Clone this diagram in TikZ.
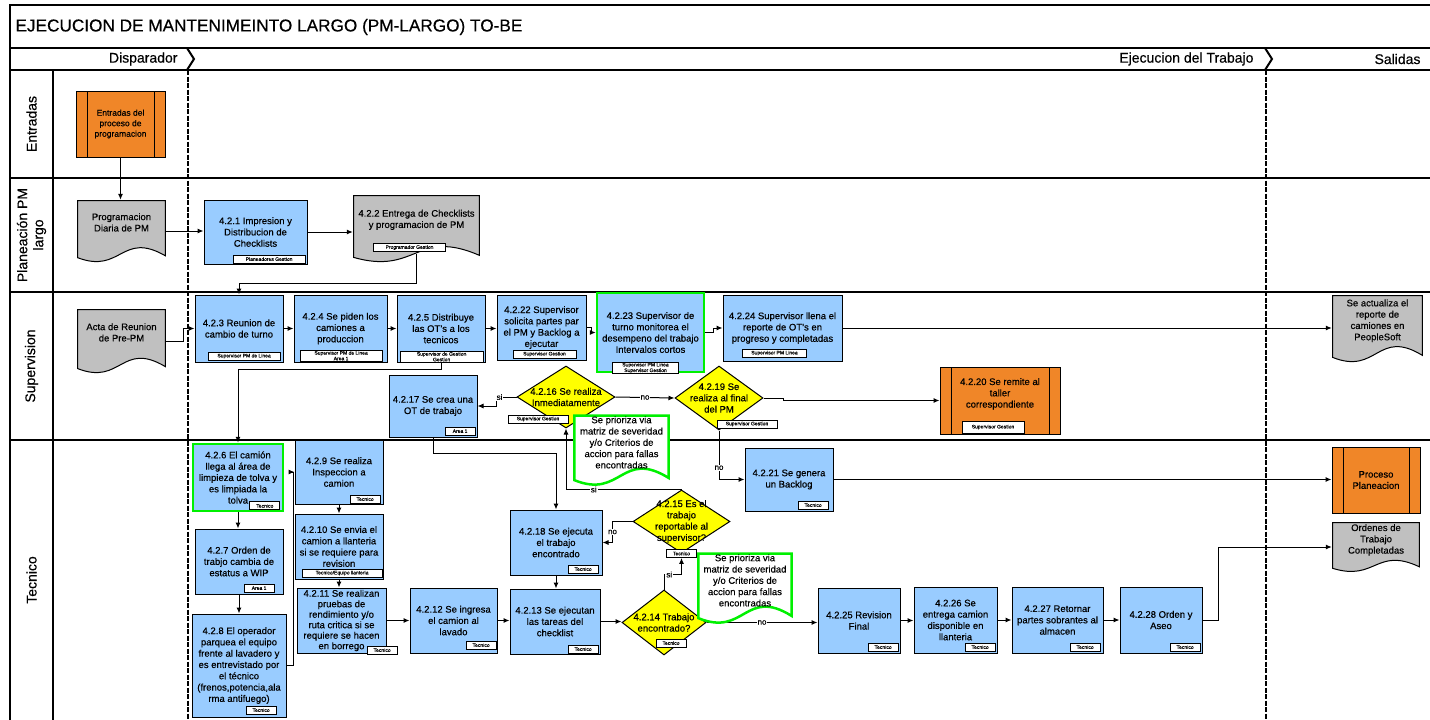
\documentclass[tikz,border=0pt]{standalone}
\usepackage{fontspec}
\setmainfont{Liberation Sans}[UprightFeatures={FakeBold=0.4}]
\usetikzlibrary{arrows.meta, shapes.geometric, calc, positioning}

\definecolor{procblue}{RGB}{153,204,255}
\definecolor{procorange}{RGB}{240,134,40}
\definecolor{docgray}{RGB}{192,192,192}
\definecolor{decyellow}{RGB}{255,255,0}
\definecolor{notegreen}{RGB}{0,240,0}

\newcommand{\bxfont}{\fontsize{9.5}{11.3}\selectfont}
\newcommand{\tagfont}{\fontsize{5}{5.6}\selectfont}
\newcommand{\lanefont}{\fontsize{14}{16}\selectfont}

\tikzset{
  procbox/.style={draw=black, fill=procblue, line width=1pt, align=center, font=\bxfont, inner sep=2pt},
  greenbox/.style={procbox, draw=notegreen, line width=2.5pt},
  predproc/.style={draw=black, fill=procorange, line width=1pt, align=center, font=\bxfont, inner sep=2pt,
    path picture={
      \draw[line width=1pt] ([xshift=11pt]path picture bounding box.north west) -- ([xshift=11pt]path picture bounding box.south west);
      \draw[line width=1pt] ([xshift=-11pt]path picture bounding box.north east) -- ([xshift=-11pt]path picture bounding box.south east);
    }},
  wavedoc/.style n args={4}{align=center, font=\bxfont, inner sep=2pt,
    path picture={
      \path[fill=#1, draw=#2, line width=#3]
        let \p1=(path picture bounding box.south west),
            \p2=(path picture bounding box.north east),
            \n1={\y2-\y1}, \n2={0.5*(\x1+\x2)} in
        (\x1+#4,\y2-#4) -- (\x2-#4,\y2-#4) -- (\x2-#4,{\y1+#4+0.09*\n1})
        .. controls ({\n2*1pt},{\y1+#4+0.5*\n1}) and ({\n2*1pt},{\y1+#4-0.21*\n1}) ..
        (\x1+#4,{\y1+#4+0.06*\n1}) -- cycle;
    }},
  docbox/.style={wavedoc={docgray}{black}{1pt}{0.6pt}},
  notebox/.style={wavedoc={white}{notegreen}{2.5pt}{1.3pt}},
  decision/.style={diamond, draw=black, fill=decyellow, line width=1pt, inner sep=0pt, aspect=1.5},
  dectext/.style={font=\bxfont, align=center, inner sep=0pt},
  tagbox/.style={draw=black, fill=white, line width=0.8pt, font=\tagfont, align=center, inner sep=0.8pt, minimum height=8pt, minimum width=30pt},
  flow/.style={draw=black, line width=1pt, ->},
  flowlbl/.style={fill=white, font=\fontsize{8}{9}\selectfont, inner sep=1pt},
  lanelbl/.style={rotate=90, align=center, font=\lanefont},
  phaselbl/.style={font=\lanefont, anchor=east},
  laneline/.style={line width=1.2pt}
}

\begin{document}
\begin{tikzpicture}[x=1pt, y=-1pt, >={Latex[length=6pt,width=5pt]}]
  \useasboundingbox (0,0) rectangle (1430,720);
  \fill[white] (0,0) rectangle (1430,720);

  % pool and lanes
  \draw[laneline] (1430,5) -- (10,5) -- (10,720);
  \draw[laneline] (10,48) -- (1430,48);
  \draw[laneline] (10,70) -- (1430,70);
  \foreach \y in {178,292,440}
    \draw[laneline] (10,\y) -- (1430,\y);
  \draw[laneline] (53,70) -- (53,720);

  \foreach \x in {188,1266} {
    \draw[line width=2.5pt, dash pattern=on 5pt off 1.5pt] (\x,70) -- (\x,720);
    \draw[line width=2pt] (\x-1,48) -- (\x+6,59) -- (\x-1,70);
  }

  \node[anchor=west, font=\fontsize{17.2}{19}\selectfont] (title) at (12,27) {EJECUCION DE MANTENIMEINTO LARGO (PM-LARGO) TO-BE};
  \node[phaselbl] (ph1) at (181,59) {Disparador};
  \node[phaselbl] (ph2) at (1257,59) {Ejecucion del Trabajo};
  \node[phaselbl] (ph3) at (1424,59) {Salidas};

  \node[lanelbl] (ln1) at (31.5,124) {Entradas};
  \node[lanelbl] (ln2) at (31.5,235) {Planeación PM\\largo};
  \node[lanelbl] (ln3) at (31.5,366) {Supervision};
  \node[lanelbl] (ln4) at (31.5,580) {Tecnico};

  % Entradas / Planeacion
  \node[predproc, minimum width=89pt, minimum height=66pt, font=\fontsize{8.5}{10.5}\selectfont] (in1) at (120.5,124) {Entradas del\\proceso de\\programacion};
  \node[docbox, minimum width=89pt, minimum height=62pt] (doc1) at (121.5,231) {Programacion\\Diaria de PM\\[6pt]};
  \node[procbox, minimum width=103pt, minimum height=64pt] (p421) at (255.5,232) {4.2.1 Impresion y\\Distribucion de\\Checklists};
  \node[docbox, minimum width=127pt, minimum height=67pt] (doc422) at (416.5,228.5) {4.2.2 Entrega de Checklists\\y programacion de PM\\[8pt]};

  % Supervision
  \node[docbox, minimum width=89pt, minimum height=64pt] (acta) at (121.5,341) {Acta de Reunion\\de Pre-PM\\[6pt]};
  \node[procbox, minimum width=88pt, minimum height=67pt] (p423) at (239,328.5) {4.2.3 Reunion de\\cambio de turno};
  \node[procbox, minimum width=93pt, minimum height=67pt] (p424) at (340.5,328.5) {4.2.4 Se piden los\\camiones a\\produccion};
  \node[procbox, minimum width=88pt, minimum height=67pt] (p425) at (441,328.5) {4.2.5 Distribuye\\las OT's a los\\tecnicos};
  \node[procbox, minimum width=89pt, minimum height=65pt] (p4222) at (541.5,327.5) {4.2.22 Supervisor\\solicita partes par\\el PM y Backlog a\\ejecutar};
  \node[greenbox, minimum width=107pt, minimum height=79pt] (p4223) at (650.5,332.5) {4.2.23 Supervisor de\\turno monitorea el\\desempeno del trabajo\\Intervalos cortos};
  \node[procbox, minimum width=119pt, minimum height=66pt] (p4224) at (782.5,328) {4.2.24 Supervisor llena el\\reporte de OT's en\\progreso y completadas};
  \node[docbox, minimum width=91pt, minimum height=67pt] (docps) at (1377.5,328.5) {Se actualiza el\\reporte de\\camiones en\\PeopleSoft\\[6pt]};
  \node[procbox, minimum width=88pt, minimum height=62pt] (p4217) at (433,406) {4.2.17 Se crea una\\OT de trabajo};
  \node[decision, minimum width=98pt, minimum height=62pt, label={[dectext]center:{4.2.16 Se realiza\\Inmediatamente}}] (d4216) at (566,397) {};
  \node[decision, minimum width=88pt, minimum height=64pt, label={[dectext]center:{4.2.19 Se\\realiza al final\\del PM}}] (d4219) at (719,398) {};
  \node[predproc, minimum width=120pt, minimum height=67pt] (p4220) at (1000,400.5) {4.2.20 Se remite al\\taller\\correspondiente\\[4pt]};

  % Tecnico
  \node[greenbox, minimum width=90pt, minimum height=67pt] (p426) at (238,477.5) {4.2.6 El camión\\llega al área de\\limpieza de tolva y\\es limpiada la\\tolva};
  \node[procbox, minimum width=88pt, minimum height=65pt] (p427) at (239,561.5) {4.2.7 Orden de\\trabjo cambia de\\estatus a WIP};
  \node[procbox, minimum width=94pt, minimum height=103pt] (p428) at (239,665.5) {4.2.8 El operador\\parquea el equipo\\frente al lavadero y\\es entrevistado por\\el técnico\\(frenos,potencia,ala\\rma antifuego)};
  \node[procbox, minimum width=88pt, minimum height=64pt] (p429) at (339,472) {4.2.9 Se realiza\\Inspeccion a\\camion};
  \node[procbox, minimum width=88pt, minimum height=65pt] (p4210) at (339,546.5) {4.2.10 Se envia el\\camion a llanteria\\si se requiere para\\revision};
  \node[procbox, minimum width=89pt, minimum height=65pt, inner ysep=0pt, font=\fontsize{9.5}{10.5}\selectfont] (p4211) at (341.5,620.5) {4.2.11 Se realizan\\pruebas de\\rendimiento y/o\\ruta critica si se\\requiere se hacen\\en borrego};
  \node[procbox, minimum width=87pt, minimum height=65pt] (p4212) at (453.5,620.5) {4.2.12 Se ingresa\\el camion al\\lavado};
  \node[procbox, minimum width=90pt, minimum height=65pt] (p4213) at (555,621.5) {4.2.13 Se ejecutan\\las tareas del\\checklist};
  \node[procbox, minimum width=92pt, minimum height=65pt] (p4218) at (556,542.5) {4.2.18 Se ejecuta\\el trabajo\\encontrado};
  \node[decision, minimum width=84pt, minimum height=65pt, label={[dectext]center:{4.2.14 Trabajo\\encontrado?}}] (d4214) at (664,622.5) {};
  \node[decision, minimum width=97pt, minimum height=63pt, label={[dectext]center:{4.2.15 Es el\\trabajo\\reportable al\\supervisor?}}] (d4215) at (681.5,521.5) {};
  \node[procbox, minimum width=88pt, minimum height=63pt] (p4221) at (789,479.5) {4.2.21 Se genera\\un Backlog};
  \node[procbox, minimum width=82pt, minimum height=65pt] (p4225) at (859,620.5) {4.2.25 Revision\\Final};
  \node[procbox, minimum width=83pt, minimum height=66pt] (p4226) at (955.5,620) {4.2.26 Se\\entrega camion\\disponible en\\llanteria};
  \node[procbox, minimum width=91pt, minimum height=66pt] (p4227) at (1057.5,620) {4.2.27 Retornar\\partes sobrantes al\\almacen};
  \node[procbox, minimum width=82pt, minimum height=66pt] (p4228) at (1161,620) {4.2.28 Orden y\\Aseo};
  \node[predproc, minimum width=88pt, minimum height=66pt] (pplan) at (1376,480) {Proceso\\Planeacion};
  \node[docbox, minimum width=88pt, minimum height=46pt] (docord) at (1376,547) {Ordenes de\\Trabajo\\Completadas\\[5pt]};

  % role tags
  \node[tagbox, minimum width=72pt, anchor=south east] (p421t) at ([xshift=-2pt,yshift=1pt]p421.south east) {Planeadores Gestion};
  \node[tagbox, minimum width=72pt] (doc422t) at ([xshift=-7pt,yshift=-19pt]doc422.center) {Programador Gestion};
  \node[tagbox, minimum width=72pt, anchor=south east] (p423t) at ([xshift=-3pt,yshift=2pt]p423.south east) {Supervisor PM de Linea};
  \node[tagbox, minimum width=82pt, anchor=south east] (p424t) at ([xshift=-5pt,yshift=1pt]p424.south east) {Supervisor PM de Linea\\Area 1};
  \node[tagbox, minimum width=83pt, anchor=south east] (p425t) at ([xshift=-2pt,yshift=0pt]p425.south east) {Supervisor de Gestion\\Gestion};
  \node[tagbox, minimum width=63pt, anchor=south] (p4222t) at ([xshift=3pt,yshift=2pt]p4222.south) {Supervisor Gestion};
  \node[tagbox, minimum width=66pt, anchor=south] (p4223t) at ([xshift=-5pt,yshift=-1pt]p4223.south) {Supervisor PM Linea\\Supervisor Gestion};
  \node[tagbox, minimum width=64pt, anchor=south] (p4224t) at ([xshift=-8pt,yshift=4pt]p4224.south) {Supervisor PM Linea};
  \node[tagbox, anchor=south east] (p4217t) at ([xshift=-2pt,yshift=2pt]p4217.south east) {Area 1};
  \node[tagbox, minimum width=60pt] (d4216t) at ([xshift=-28pt,yshift=-22pt]d4216.center) {Supervisor Gestion};
  \node[tagbox, minimum width=60pt] (d4219t) at ([xshift=28pt,yshift=-26pt]d4219.center) {Supervisor Gestion};
  \node[tagbox, minimum width=62pt, minimum height=12pt, anchor=south] (p4220t) at ([xshift=-7pt,yshift=1pt]p4220.south) {Supervisor Gestion};
  \node[tagbox, anchor=south east] (p426t) at ([xshift=-4pt,yshift=2pt]p426.south east) {Tecnico};
  \node[tagbox, anchor=south east] (p427t) at ([xshift=-9pt,yshift=2pt]p427.south east) {Area 1};
  \node[tagbox, anchor=south east] (p428t) at ([xshift=-10pt,yshift=3pt]p428.south east) {Tecnico};
  \node[tagbox, anchor=south east] (p429t) at ([xshift=-3pt,yshift=1pt]p429.south east) {Tecnico};
  \node[tagbox, minimum width=80pt, anchor=south east] (p4210t) at ([xshift=-1pt,yshift=2pt]p4210.south east) {Tecnico/Equipo llanteria};
  \node[tagbox, anchor=south east] (p4211t) at ([xshift=11pt,yshift=-1pt]p4211.south east) {Tecnico};
  \node[tagbox, anchor=south east] (p4212t) at ([xshift=-1pt,yshift=4pt]p4212.south east) {Tecnico};
  \node[tagbox, anchor=south east] (p4213t) at ([xshift=-2pt,yshift=1pt]p4213.south east) {Tecnico};
  \node[tagbox, anchor=south east] (p4218t) at ([xshift=-4pt,yshift=2pt]p4218.south east) {Tecnico};
  \node[tagbox] (d4214t) at ([xshift=7pt,yshift=-20.5pt]d4214.center) {Tecnico};
  \node[tagbox] (d4215t) at ([yshift=-32pt]d4215.center) {Tecnico};
  \node[tagbox, anchor=south east] (p4221t) at ([xshift=-5pt,yshift=2pt]p4221.south east) {Tecnico};
  \node[tagbox, anchor=south east] (p4225t) at ([xshift=-2pt,yshift=2pt]p4225.south east) {Tecnico};
  \node[tagbox, anchor=south east] (p4226t) at ([xshift=-2pt,yshift=2pt]p4226.south east) {Tecnico};
  \node[tagbox, anchor=south east] (p4227t) at ([xshift=-3pt,yshift=2pt]p4227.south east) {Tecnico};
  \node[tagbox, anchor=south east] (p4228t) at ([xshift=-2pt,yshift=2pt]p4228.south east) {Tecnico};

  % connectors
  \draw[flow] (in1.south) -- (in1.south |- doc1.north);
  \draw[flow] (doc1.east) -- (doc1.east -| p421.west);
  \draw[flow] (p421.east) -- (p421.east -| doc422.west);
  \draw[flow] ([yshift=8pt]doc422.south) -- ++(0,29) -| (p423.north);
  \draw[flow] (acta.east) -- ++(17,0) |- (p423.west);
  \draw[flow] (p423.east) -- (p424.west);
  \draw[flow] (p424.east) -- (p425.west);
  \draw[flow] (p425.east) -- (p425.east -| p4222.west);
  \draw[flow] (p4222.east) -- ++(5,0) |- (p4223.west);
  \draw[flow] (p4223.east) -- ++(8,0) |- (p4224.west);
  \draw[flow] (p4224.east) -- (p4224.east -| docps.west);
  \draw[flow] (p425.south) -- ++(0,7) -| (p426.north);
  \draw[flow] (d4216.west) -- ++(-20,0) node[flowlbl, pos=0.85] (l1) {si} |- (p4217.east);
  \draw[flow] (d4216.east) -- node[flowlbl, midway] (l2) {no} (d4219.west);
  \draw[flow] (d4219.east) -- ++(20,0) |- (p4220.west);
  \draw[flow] (d4219.south) |- node[flowlbl, pos=0.38] (l3) {no} (p4221.west);
  \draw[flow] (p4221.east) -- (p4221.east -| pplan.west);
  \draw[flow] (d4215.north) -| node[flowlbl, pos=0.38] (l4) {si} (d4216.south);
  \draw[flow] (p4217.south) -- ++(0,16) -| (p4218.north);
  \draw[flow] (d4215.west) -- ++(-20,0) |- node[flowlbl, pos=0.25] (l5) {no} (p4218.east);
  \draw[flow] (d4214.north) -- ++(0,-15) -| node[flowlbl, pos=0.15] (l6) {si} (d4215t.south);
  \draw[flow] (p426.south) -- (p426.south |- p427.north);
  \draw[flow] (p427.south) -- (p427.south |- p428.north);
  \draw[flow] (p428.east) -- ++(7,0) |- (p429.west);
  \draw[flow] (p429.south) -- (p429.south |- p4210.north);
  \draw[flow] (p4210.south) -- (p4210.south |- p4211.north);
  \draw[flow] (p4211.east) -- (p4211.east -| p4212.west);
  \draw[flow] (p4212.east) -- (p4212.east -| p4213.west);
  \draw[flow] (p4218.south) -- (p4218.south |- p4213.north);
  \draw[flow] (p4213.east) -- (p4213.east -| d4214.west);
  \draw[flow] (d4214.east) -- node[flowlbl, midway] (l7) {no} (d4214.east -| p4225.west);
  \draw[flow] (p4225.east) -- (p4225.east -| p4226.west);
  \draw[flow] (p4226.east) -- (p4226.east -| p4227.west);
  \draw[flow] (p4227.east) -- (p4227.east -| p4228.west);
  \draw[flow] (p4228.east) -- ++(16,0) |- (docord.west);

  % notes on top
  \node[notebox, minimum width=97pt, minimum height=70pt] (note1) at (621.5,450) {Se prioriza via\\matriz de severidad\\y/o Criterios de\\accion para fallas\\encontradas\\[4pt]};
  \node[notebox, minimum width=96pt, minimum height=70pt] (note2) at (745,588) {Se prioriza via\\matriz de severidad\\y/o Criterios de\\accion para fallas\\encontradas\\[4pt]};
\end{tikzpicture}
\end{document}
